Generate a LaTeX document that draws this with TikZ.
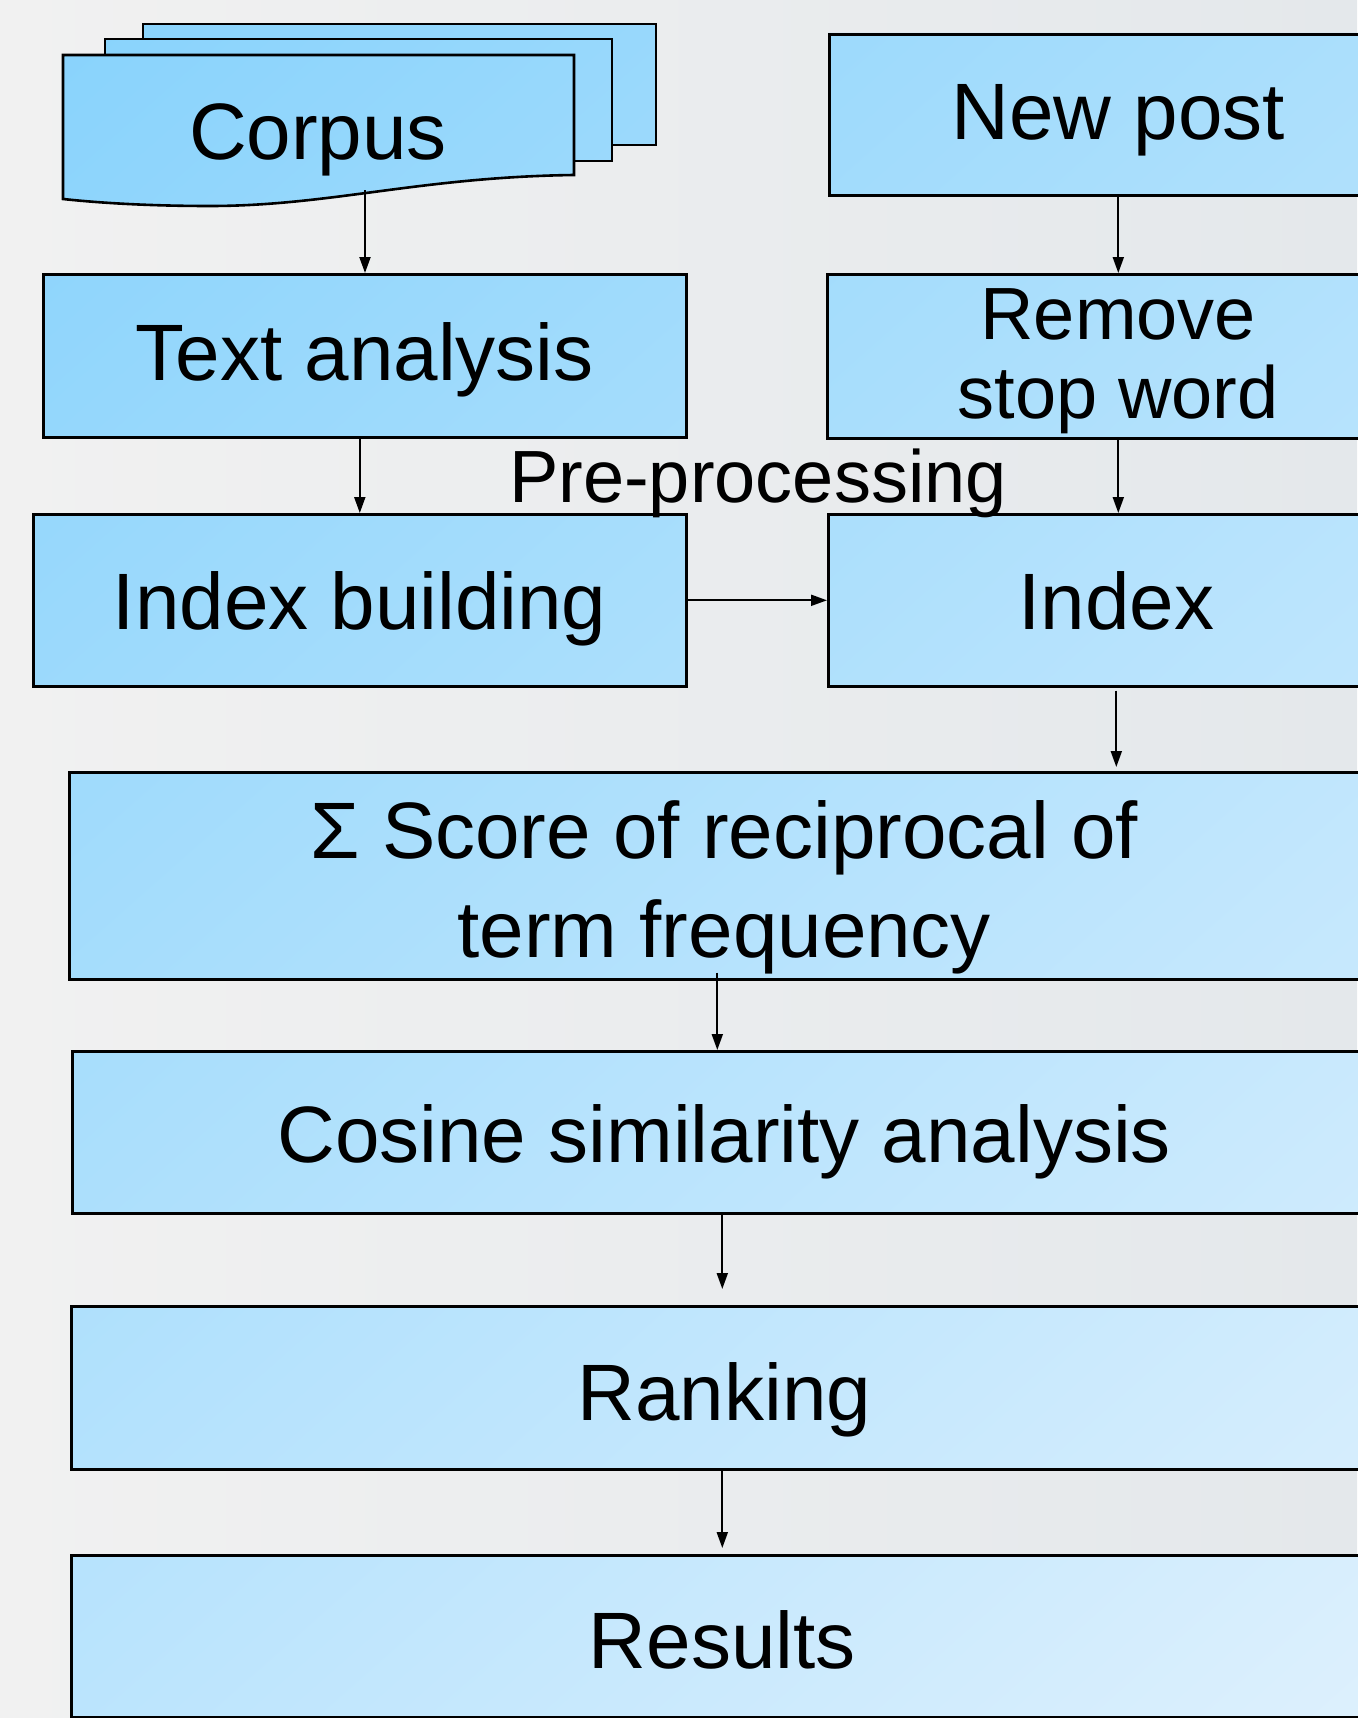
\documentclass[tikz,border=0pt]{standalone}
\usepackage{fontspec}
\setmainfont{Liberation Sans}
\usetikzlibrary{arrows.meta}
\definecolor{gA}{HTML}{86D2FC}
\definecolor{gB}{HTML}{DDF0FD}
\definecolor{bgL}{HTML}{F1F1F1}
\definecolor{bgR}{HTML}{E4E8EB}
\pgfdeclarelayer{fills}
\pgfsetlayers{fills,main}
\newcommand\gshade{\shade[top color=gA,bottom color=gB,shading angle=41.5] (-422,-241) rectangle (1778,1959);}
\begin{document}
\begin{tikzpicture}[x=1pt,y=-1pt,
  boxline/.style={draw=black,line width=2.6pt},
  box/.style={boxline,rectangle,anchor=north west,inner sep=0pt,
    font=\fontsize{80}{99}\selectfont,text height=58pt,text depth=8pt},
  mbox/.style={boxline,rectangle,anchor=north west,inner sep=0pt,align=center},
  arr/.style={line width=2pt,-{Triangle[length=16pt,width=11pt]}}]
\useasboundingbox (0,0) rectangle (1357,1718);
\begin{pgfonlayer}{fills}
\shade[left color=bgL,right color=bgR] (0,0) rectangle (1357,1718);
\end{pgfonlayer}
% corpus stack
\begin{scope}\clip (143,24) rectangle (656,145); \gshade \end{scope}
\draw[line width=2.6pt] (143,24) rectangle (656,145);
\begin{scope}\clip (105,39) rectangle (612,161); \gshade \end{scope}
\draw[line width=2.6pt] (105,39) rectangle (612,161);
\begin{scope}
\clip (63,55) -- (574,55) -- (574,175) .. controls (420,177) and (330,206) .. (210,206) .. controls (150,206) and (100,203) .. (63,199) -- cycle;
\gshade
\end{scope}
\draw[line width=2.6pt,line join=miter] (63,55) -- (574,55) -- (574,175) .. controls (420,177) and (330,206) .. (210,206) .. controls (150,206) and (100,203) .. (63,199) -- cycle;
\node[font=\fontsize{80}{99}\selectfont,anchor=base] (corpus) at (318,160) {Corpus};
\coordinate (corpusbot) at (365,190);
% boxes
\node[box,minimum width=643pt,minimum height=163pt] (ta) at (42,273) {Text analysis};
\node[box,text height=67pt,minimum width=653pt,minimum height=172pt] (ib) at (32,513) {Index building};
\node[box,minimum width=578pt,minimum height=161pt] (np) at (828,33) {New post};
\node[mbox,font=\fontsize{74}{79}\selectfont,minimum width=582pt,minimum height=164pt] (rs) at (826,273) {\rule{0pt}{60pt}Remove\\stop word};
\node[box,text height=67pt,minimum width=576pt,minimum height=172pt] (ix) at (827,513) {Index};
\node[mbox,font=\fontsize{80}{99}\selectfont,minimum width=1310pt,minimum height=207pt] (sc) at (68,771) {\rule{0pt}{80pt}Σ Score of reciprocal of\\term frequency};
\node[box,text height=69pt,minimum width=1304pt,minimum height=162pt] (cs) at (71,1050) {Cosine similarity analysis};
\node[box,text height=73pt,minimum width=1306pt,minimum height=163pt] (rk) at (70,1305) {Ranking};
\node[box,text height=73pt,minimum width=1302pt,minimum height=162pt] (rl) at (70,1554) {Results};
\node[font=\fontsize{74}{79}\selectfont,anchor=base] (pre) at (758,502) {Pre-processing};
\begin{pgfonlayer}{fills}
\begin{scope}
\clip (ta.north west) rectangle (ta.south east) (ib.north west) rectangle (ib.south east)
  (np.north west) rectangle (np.south east) (rs.north west) rectangle (rs.south east)
  (ix.north west) rectangle (ix.south east) (sc.north west) rectangle (sc.south east)
  (cs.north west) rectangle (cs.south east) (rk.north west) rectangle (rk.south east)
  (rl.north west) rectangle (rl.south east);
\gshade
\end{scope}
\end{pgfonlayer}
% connectors
\draw[arr] (corpusbot) -- (corpusbot |- ta.north);
\draw[arr] (ib.north |- ta.south) -- (ib.north);
\draw[arr] (ib.east) -- (ix.west);
\draw[arr] (np.south) -- (rs.north);
\draw[arr] (rs.south) -- (rs.south |- ix.north);
\draw[arr] ([yshift=-3pt]ix.south) -- ([yshift=4pt]ix.south |- sc.north);
\draw[arr] ([xshift=-7pt,yshift=8pt]sc.south) -- ([xshift=-7pt]sc.south |- cs.north);
\draw[arr] ([xshift=-2pt,yshift=2pt]cs.south) -- ([xshift=-2pt,yshift=16pt]cs.south |- rk.north);
\draw[arr] ([xshift=-2pt]rk.south) -- ([xshift=-2pt,yshift=6pt]rk.south |- rl.north);
\end{tikzpicture}
\end{document}
